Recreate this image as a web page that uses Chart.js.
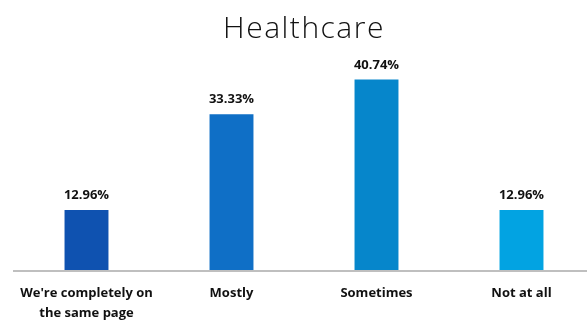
<!DOCTYPE html>
<html>
<head>
<meta charset="utf-8">
<script src="https://cdn.jsdelivr.net/npm/chart.js@4/dist/chart.umd.min.js"></script>
<style>
html,body{margin:0;padding:0;background:#fff;overflow:hidden;}
#wrap{width:600px;height:322px;position:relative;}
</style>
</head>
<body>
<div id="wrap"><canvas id="c"></canvas></div>
<script>
const titleText = "Healthcare";
const categories = [["We're completely on", "the same page"], "Mostly", "Sometimes", "Not at all"];
const values = [12.96, 33.33, 40.74, 12.96];
const valueLabels = ["12.96%", "33.33%", "40.74%", "12.96%"];

const barColors = ["#0f52b0", "#0f6fc6", "#0686cb", "#02a3e2"];

const spacingPlugin = {
  id: 'titleSpacing',
  beforeDraw(chart) { chart.ctx.letterSpacing = '1.5px'; },
  beforeDatasetsDraw(chart) { chart.ctx.letterSpacing = '0px'; }
};

const valueLabelPlugin = {
  id: 'valueLabels',
  afterDatasetsDraw(chart) {
    const ctx = chart.ctx;
    const meta = chart.getDatasetMeta(0);
    ctx.save();
    ctx.letterSpacing = '0px';
    ctx.font = "bold 13px 'Open Sans'";
    ctx.fillStyle = "#111";
    ctx.textAlign = "center";
    ctx.textBaseline = "alphabetic";
    meta.data.forEach((bar, i) => {
      const p = bar.getProps(['x', 'y'], true);
      ctx.fillText(valueLabels[i], p.x, p.y - 11);
    });
    ctx.restore();
  }
};

new Chart(document.getElementById('c'), {
  type: 'bar',
  data: {
    labels: categories,
    datasets: [{
      data: values,
      backgroundColor: barColors,
      borderWidth: 0,
      categoryPercentage: 1,
      barPercentage: 0.303
    }]
  },
  options: {
    responsive: true,
    maintainAspectRatio: false,
    animation: false,
    layout: { padding: { left: 14, right: 6, top: 0, bottom: 0 } },
    plugins: {
      legend: { display: false },
      tooltip: { enabled: false },
      title: {
        display: true,
        text: titleText,
        color: "#111",
        font: { family: "'Open Sans'", size: 30, weight: 300, lineHeight: 1.2 },
        padding: { top: 11, bottom: 12.5 }
      }
    },
    scales: {
      x: {
        grid: { display: false, drawTicks: false, z: 1 },
        border: { display: true, color: "#bfbfbf", width: 2, z: 1 },
        ticks: {
          z: 1,
          color: "#111",
          font: { family: "'Open Sans'", size: 13, weight: 'bold', lineHeight: 1.5 },
          padding: 13,
          maxRotation: 0,
          autoSkip: false
        },
        afterFit(scale) { scale.height = 51; }
      },
      y: {
        display: false,
        min: 0,
        max: 45
      }
    }
  },
  plugins: [spacingPlugin, valueLabelPlugin]
});
</script>
</body>
</html>
